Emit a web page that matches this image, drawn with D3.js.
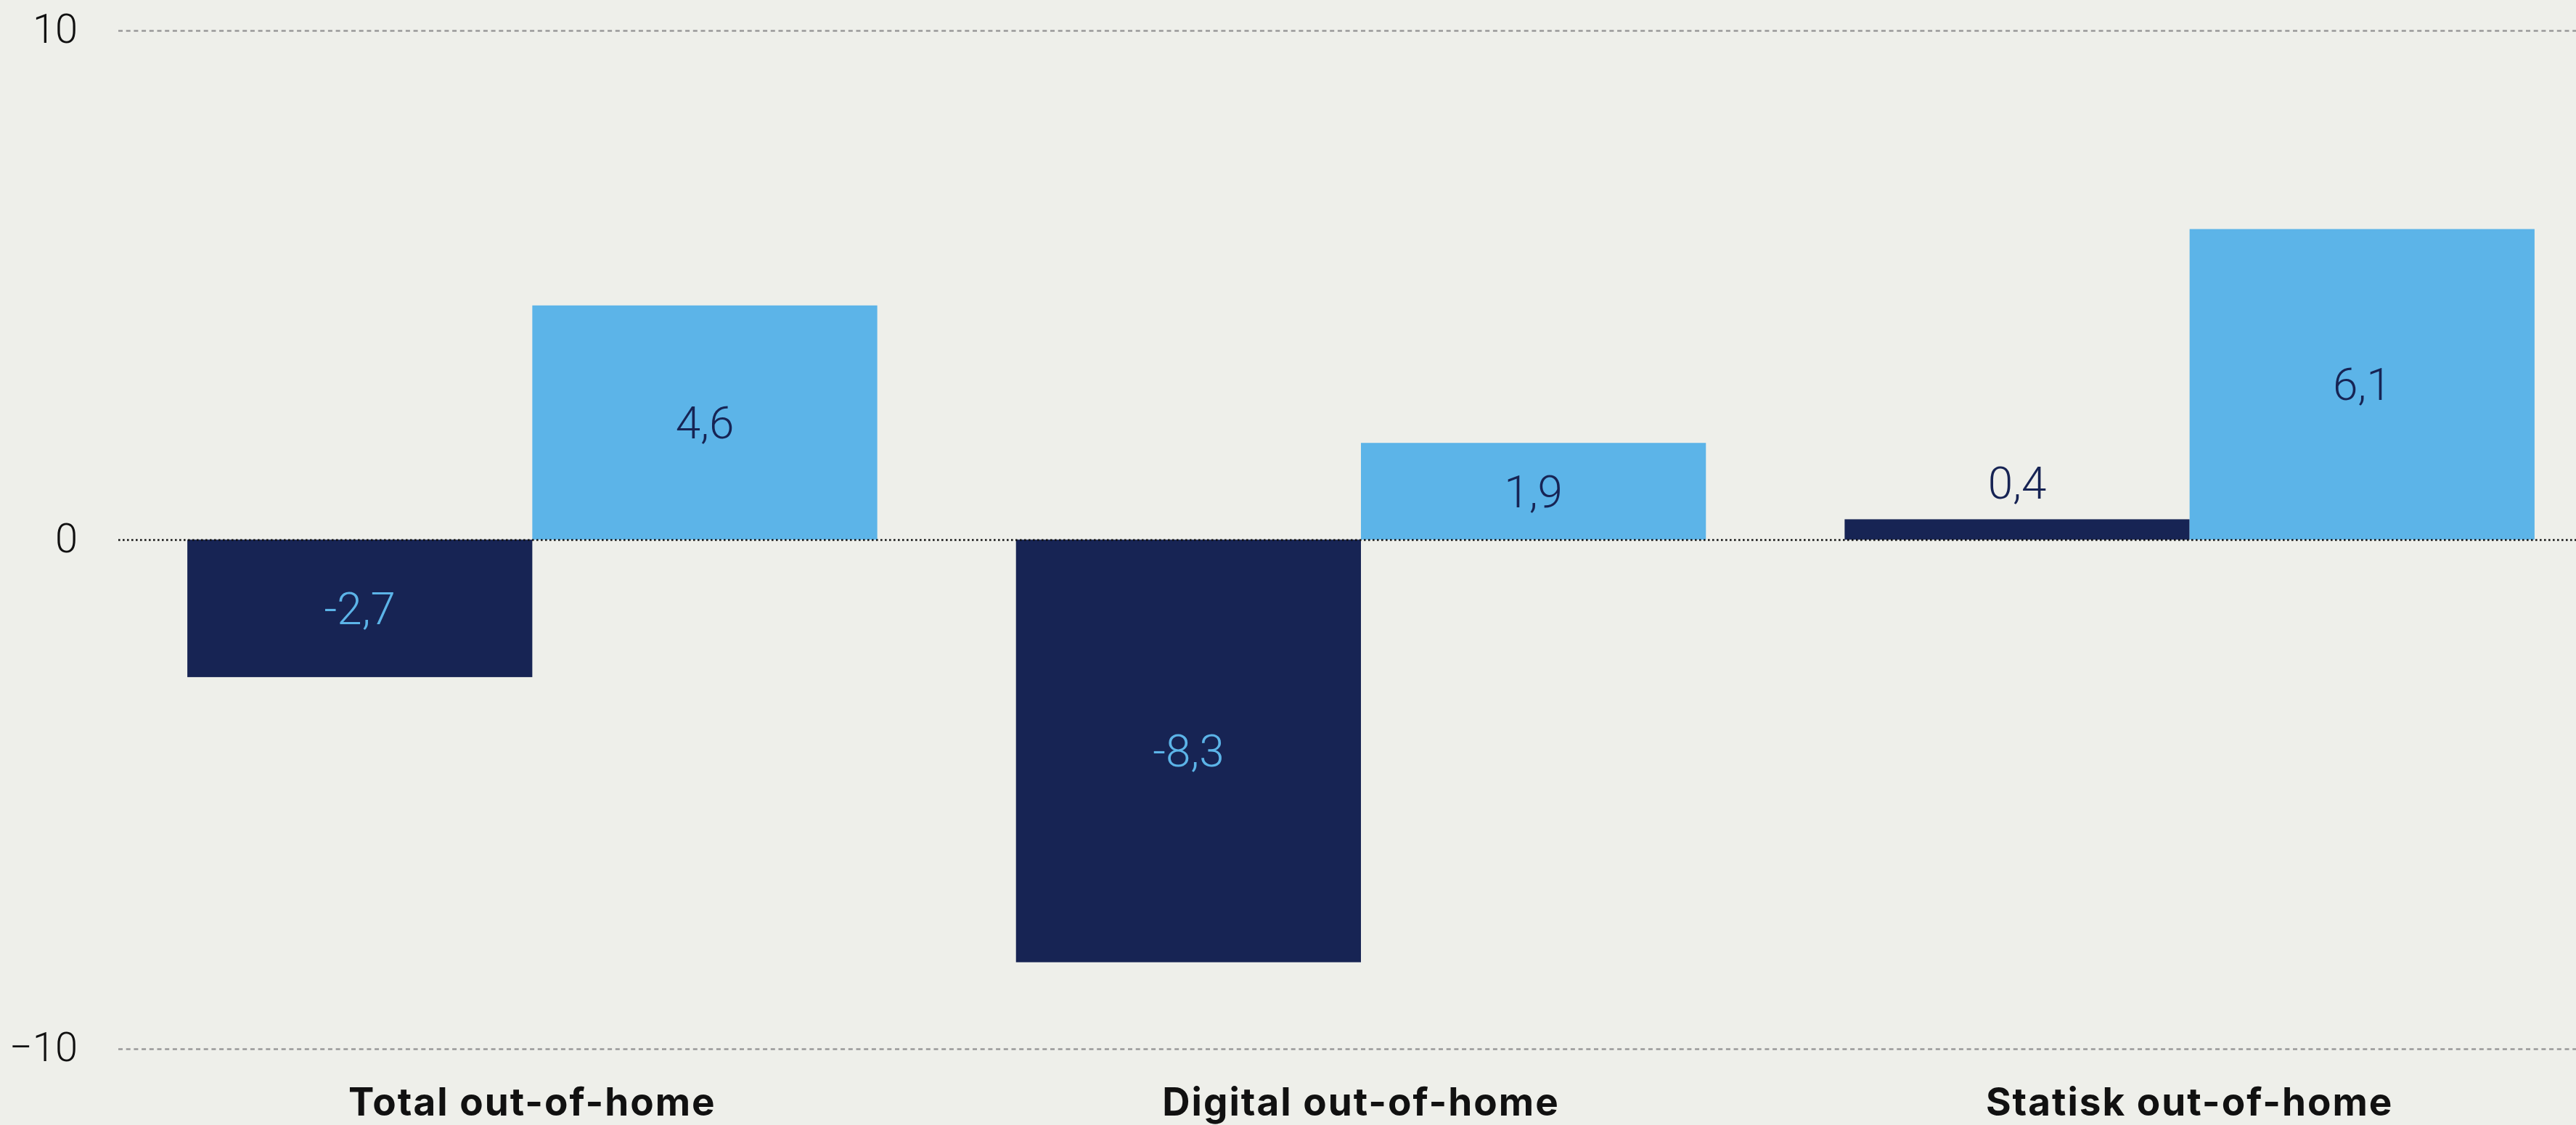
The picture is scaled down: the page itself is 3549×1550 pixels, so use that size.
<!DOCTYPE html>
<html>
<head>
<meta charset="utf-8">
<script src="https://cdn.jsdelivr.net/npm/d3@7"></script>
<style>
  html, body { margin: 0; padding: 0; background: #EEEFEA; }
  svg { display: block; }
</style>
</head>
<body>
<svg id="chart"></svg>
<script>
// Categories and the two series (percent change)
const categories = ["Total out-of-home", "Digital out-of-home", "Statisk out-of-home"];
const seriesDark = [-2.7, -8.3, 0.4];
const seriesLight = [4.6, 1.9, 6.1];
const yTicks = [-10, 0, 10];

const W = 3549, H = 1550;
const colors = { dark: "#172454", light: "#5CB4E8" };
const labelColors = { dark: "#5CB4E8", light: "#172454" };

const svg = d3.select("#chart").attr("width", W).attr("height", H);
svg.append("rect").attr("width", W).attr("height", H).attr("fill", "#EEEFEA");

const plotLeft = 163;
const y = d3.scaleLinear().domain([-10, 10]).range([1445, 42]);
const x = d3.scaleBand().domain(categories).range([plotLeft, 3587])
  .paddingInner(0.1674).paddingOuter(0.0833);
const sub = d3.scaleBand().domain(["dark", "light"]).range([0, x.bandwidth()]).padding(0);

const locale = d3.formatLocale({ decimal: ",", thousands: ".", grouping: [3], currency: ["", ""], minus: "-" });
const fmt = locale.format(".1f");

// Rows for every bar
const rows = [];
categories.forEach((c, i) => {
  rows.push({ cat: c, key: "dark", value: seriesDark[i] });
  rows.push({ cat: c, key: "light", value: seriesLight[i] });
});

// Bars
svg.append("g").selectAll("rect").data(rows).join("rect")
  .attr("x", d => x(d.cat) + sub(d.key))
  .attr("width", sub.bandwidth())
  .attr("y", d => y(Math.max(0, d.value)))
  .attr("height", d => Math.abs(y(d.value) - y(0)))
  .attr("fill", d => colors[d.key]);

// Gridlines (drawn over bars)
const grid = svg.append("g");
grid.selectAll("line").data(yTicks).join("line")
  .attr("x1", plotLeft).attr("x2", W)
  .attr("y1", d => y(d) + 0.5).attr("y2", d => y(d) + 0.5)
  .attr("stroke", d => d === 0 ? "#111" : "#999")
  .attr("stroke-width", 2.6)
  .attr("stroke-dasharray", d => d === 0 ? "2.6,3.4" : "6,4.7");

// Y axis labels
const yAxis = svg.append("g")
  .attr("transform", `translate(${plotLeft},0)`)
  .call(d3.axisLeft(y).tickValues(yTicks).tickSize(0).tickPadding(56).tickFormat(d3.format("d")));
yAxis.select(".domain").remove();
yAxis.selectAll("text")
  .attr("fill", "#111")
  .attr("dy", "0.3em")
  .style("font-family", "Roboto, 'Liberation Sans', sans-serif")
  .style("font-weight", 300)
  .style("font-size", "56px");

// Category axis
const xAxis = svg.append("g")
  .attr("transform", `translate(0,${y(-10)})`)
  .call(d3.axisBottom(x).tickSize(0).tickPadding(54));
xAxis.select(".domain").remove();
xAxis.selectAll("text")
  .attr("fill", "#111")
  .style("font-family", "Inter, Roboto, 'Liberation Sans', sans-serif")
  .style("font-weight", 700)
  .style("font-size", "53px")
  .style("letter-spacing", "2px");

// Value labels: centred inside the bar, or above it when the bar is too short
const minInside = 90;
svg.append("g").selectAll("text").data(rows).join("text")
  .attr("x", d => x(d.cat) + sub(d.key) + sub.bandwidth() / 2)
  .attr("y", d => {
    const h = Math.abs(y(d.value) - y(0));
    if (h < minInside) return y(Math.max(0, d.value)) - 28;
    return (y(d.value) + y(0)) / 2;
  })
  .attr("dy", d => Math.abs(y(d.value) - y(0)) < minInside ? 0 : "0.35em")
  .attr("text-anchor", "middle")
  .attr("fill", d => Math.abs(y(d.value) - y(0)) < minInside ? colors.dark : labelColors[d.key])
  .style("font-family", "Roboto, 'Liberation Sans', sans-serif")
  .style("font-weight", 300)
  .style("font-size", "62px")
  .text(d => fmt(d.value));
</script>
</body>
</html>
